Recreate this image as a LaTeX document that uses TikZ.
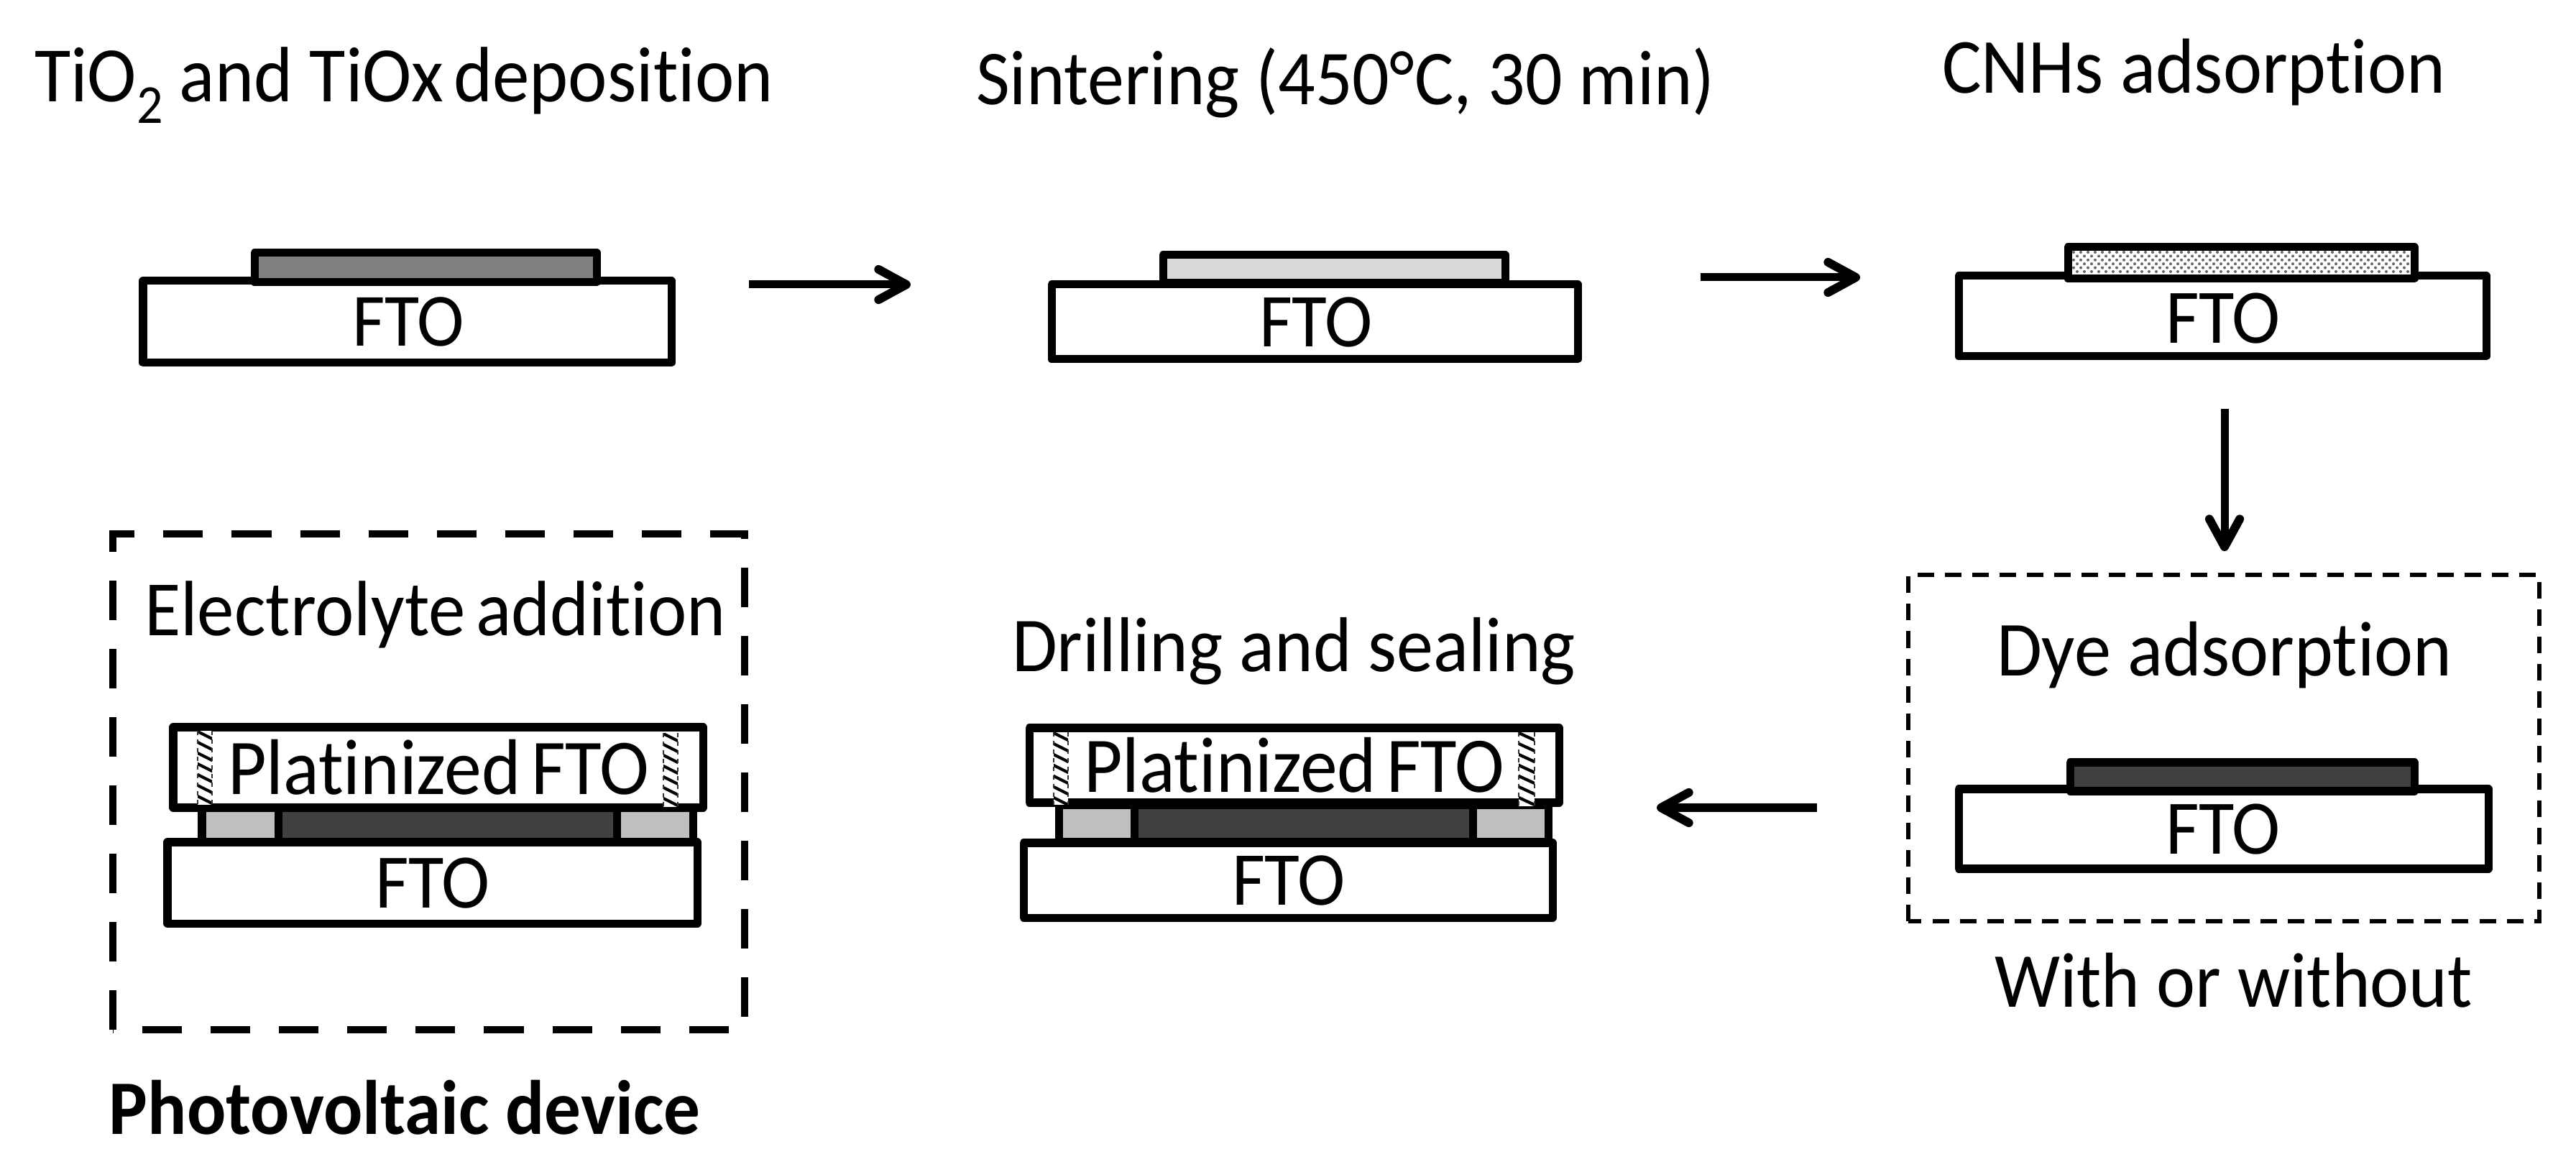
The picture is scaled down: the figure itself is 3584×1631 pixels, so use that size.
\documentclass[tikz,border=0pt]{standalone}
\usepackage{graphicx}
\usepackage{fontspec}
\setmainfont{Carlito}[Ligatures=NoCommon]
\usetikzlibrary{arrows.meta}
\newlength{\pxunit}\setlength{\pxunit}{0.01cm}
\newcommand{\txtw}[2]{\resizebox{#1\pxunit}{!}{\scalebox{1}[1.06]{#2}}}
\newcommand{\tightsp}{\hspace{0.14em}}
\newcommand{\lowtwo}{\raisebox{-0.27em}{\fontsize{7}{8}\selectfont 2}}
\newcommand{\hatchrect}[4]{%
  \fill[white] (#1,#2) rectangle (#3,#4);
  \begin{scope}
    \clip (#1,#2) rectangle (#3,#4);
    \foreach \k in {-2,...,8} {
      \draw[line width=1.2pt,black] (#1-2,#2+\k*15) -- (#3+2,#2+\k*15+12);
    }
  \end{scope}
  \draw[line width=0.6pt,black!80,dash pattern=on 1.7pt off 1.7pt] (#1,#2) -- (#1,#4) (#3,#2) -- (#3,#4);
}
\tikzset{
  x=0.01cm,y=-0.01cm,
  solidbox/.style={draw=black,line width=3.13pt,line join=round,fill=white},
  layerbox/.style={draw=black,line width=3.13pt,line join=round},
  flowarrow/.style={draw=black,line width=3.13pt,-{Straight Barb[round,length=11pt,width=12pt,line width=3.4pt]}},
  label/.style={anchor=base west,inner sep=0pt,outer sep=0pt},
  thindash/.style={draw=black,line width=1.45pt,dash pattern=on 6.55pt off 4.27pt},
  thickdash/.style={draw=black,line width=3pt,dash pattern=on 15.65pt off 11.38pt},
}
\definecolor{midgrey}{gray}{0.5}
\definecolor{palegrey}{gray}{0.85}
\definecolor{sealgrey}{gray}{0.75}
\definecolor{darkgrey}{gray}{0.25}
\begin{document}
\begin{tikzpicture}
\useasboundingbox (0,0) rectangle (3584,1631);
\fill[white] (0,0) rectangle (3584,1631);

% ---------- titles
\node[label] (t1) at (48,142) {\txtw{1028}{TiO\lowtwo\ and TiOx\tightsp deposition}};
\node[label] (t2) at (1358,146) {\txtw{1028}{Sintering (450°C, 30 min)}};
\node[label] (t3) at (2702,130) {\txtw{700}{CNHs adsorption}};
\node[label] (t4) at (201,884) {\txtw{809}{Electrolyte\tightsp addition}};
\node[label] (t5) at (1408,935) {\txtw{784}{Drilling and sealing}};
\node[label] (t6) at (2778,941) {\txtw{633}{Dye adsorption}};
\node[label] (t7) at (2775,1401) {\txtw{665}{With or without}};
\node[label] (t8) at (152,1578) {\txtw{822}{\bfseries Photovoltaic device}};

% ---------- step 1
\draw[solidbox] (199,391) rectangle (934,505);
\draw[layerbox,fill=midgrey] (354,352) rectangle (830,393);
\node[label] (f1) at (490,482) {\txtw{156}{FTO}};

% ---------- step 2
\draw[solidbox] (1463,396) rectangle (2195,500);
\draw[layerbox,fill=palegrey] (1618,355) rectangle (2094,394);
\node[label] (f2) at (1752,483) {\txtw{158}{FTO}};

% ---------- step 3
\draw[solidbox] (2725,384) rectangle (3459,496);
\fill[white] (2877,344) rectangle (3359,388);
\foreach \r in {0,...,5} {
  \pgfmathsetmacro{\yy}{351+\r*5.4}
  \pgfmathsetmacro{\off}{mod(\r,2)*5}
  \foreach \c in {0,...,46} {
    \fill[black!60] (2885+\off+\c*10,\yy) circle[radius=2];
  }
}
\draw[layerbox] (2877,344) rectangle (3359,388);
\node[label] (f3) at (3013,478) {\txtw{160}{FTO}};

% ---------- dye
\draw[thindash] (2655,1282) -- (2655,800) -- (3533,800) -- (3533,1282) -- cycle;
\draw[solidbox] (2725,1098) rectangle (3462,1209);
\draw[layerbox,fill=darkgrey] (2880,1061) rectangle (3359,1101);
\node[label] (f4) at (3013,1188) {\txtw{160}{FTO}};

% ---------- drilling and sealing
\draw[layerbox,fill=sealgrey] (1473,1120) rectangle (2154,1172);
\draw[layerbox,fill=darkgrey] (1578,1120) rectangle (2049,1172);
\draw[solidbox] (1424,1173) rectangle (2160,1277);
\draw[solidbox] (1432,1013) rectangle (2169,1117);
\hatchrect{1466}{1019}{1486}{1120}
\hatchrect{2113}{1019}{2135}{1122}
\node[label] (p2) at (1508,1103) {\txtw{585}{Platinized\tightsp FTO}};
\node[label] (f5) at (1714,1259) {\txtw{158}{FTO}};

% ---------- electrolyte addition
\draw[thickdash] (157,1433) -- (157,743) -- (1036,743) -- (1036,1433) -- cycle;
\draw[layerbox,fill=sealgrey] (281,1124) rectangle (964,1172);
\draw[layerbox,fill=darkgrey] (387,1124) rectangle (858,1172);
\draw[solidbox] (233,1172) rectangle (970,1285);
\draw[solidbox] (241,1012) rectangle (978,1124);
\hatchrect{275}{1017}{295}{1120}
\hatchrect{923}{1020}{943}{1123}
\node[label] (p1) at (317,1105) {\txtw{586}{Platinized\tightsp FTO}};
\node[label] (f6) at (522,1263) {\txtw{160}{FTO}};

% ---------- arrows
\coordinate (a1s) at (1042,396); \coordinate (a1e) at (1267,396);
\coordinate (a2s) at (2366,386); \coordinate (a2e) at (2588,386);
\coordinate (a3s) at (3095,569); \coordinate (a3e) at (3095,767);
\coordinate (a4s) at (2528,1124); \coordinate (a4e) at (2305,1124);
\draw[flowarrow] (a1s) -- (a1e);
\draw[flowarrow] (a2s) -- (a2e);
\draw[flowarrow] (a3s) -- (a3e);
\draw[flowarrow] (a4s) -- (a4e);
\end{tikzpicture}
\end{document}
